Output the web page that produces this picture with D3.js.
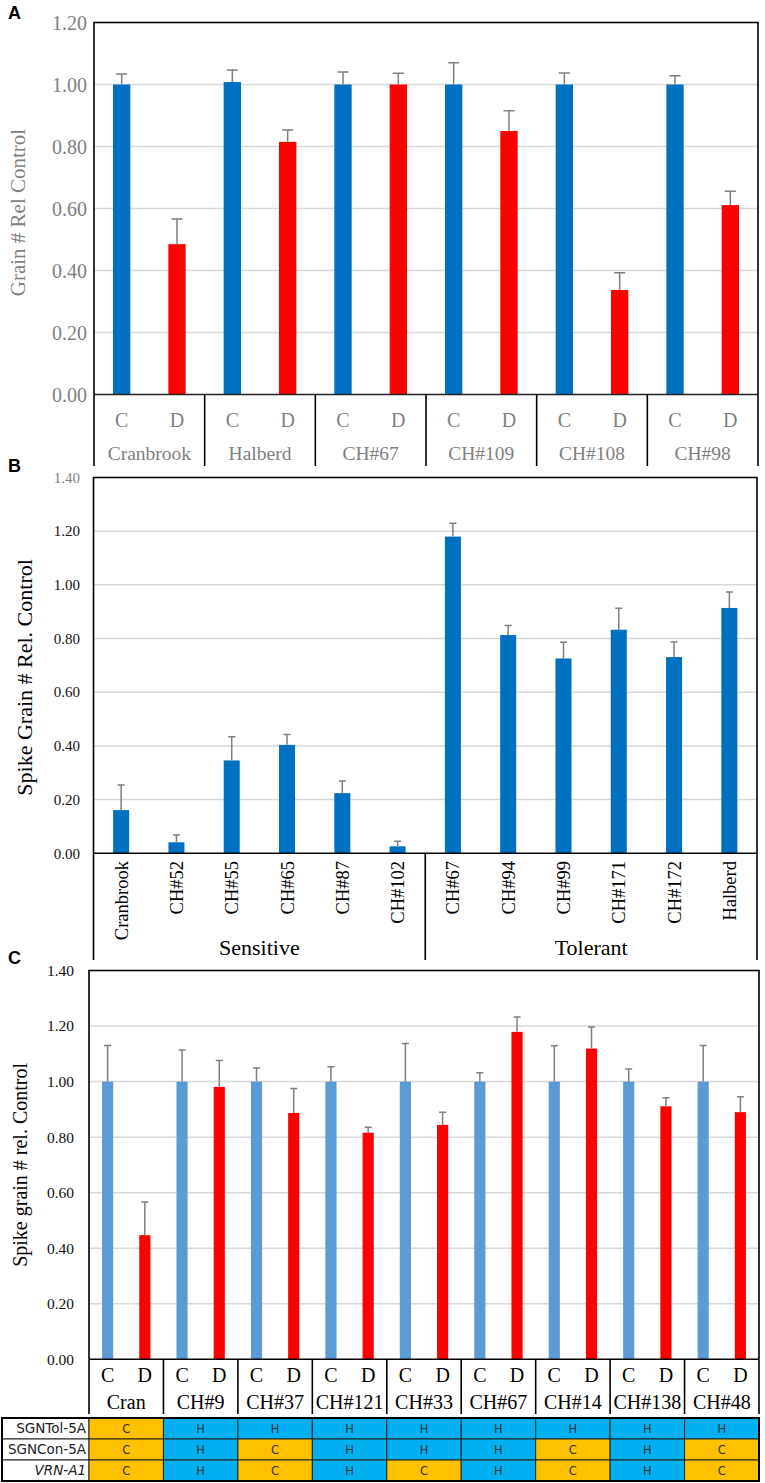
<!DOCTYPE html>
<html><head><meta charset="utf-8">
<script src="https://cdn.jsdelivr.net/npm/d3@7"></script>
<style>
html,body{margin:0;padding:0;background:#fff;}
svg{display:block;}
</style></head>
<body>
<script>
// ---------- DATA ----------
const groupsA = ["Cranbrook","Halberd","CH#67","CH#109","CH#108","CH#98"];
const treatments = ["C","D"];
const ctrlA = [1.00,1.008,1.00,1.00,1.00,1.00];
const ctrlErrA = [0.034,0.039,0.040,0.070,0.037,0.028];
const droughtA = [0.485,0.815,1.00,0.85,0.337,0.611];
const droughtErrA = [0.081,0.038,0.036,0.065,0.056,0.045];
const ticksA = [0,0.2,0.4,0.6,0.8,1.0,1.2];

const groupsB = ["Cranbrook","CH#52","CH#55","CH#65","CH#87","CH#102","CH#67","CH#94","CH#99","CH#171","CH#172","Halberd"];
const valB = [0.161,0.041,0.346,0.404,0.224,0.026,1.18,0.813,0.726,0.833,0.731,0.914];
const errB = [0.093,0.027,0.088,0.039,0.045,0.019,0.05,0.036,0.06,0.08,0.056,0.059];
const classesB = ["Sensitive","Tolerant"];
const classSizeB = [6,6];
const ticksBC = [0,0.2,0.4,0.6,0.8,1.0,1.2,1.4];

const groupsC = ["Cran","CH#9","CH#37","CH#121","CH#33","CH#67","CH#14","CH#138","CH#48"];
const ctrlC = [1,1,1,1,1,1,1,1,1];
const ctrlErrC = [0.13,0.114,0.049,0.053,0.137,0.032,0.129,0.045,0.13];
const droughtC = [0.447,0.981,0.887,0.816,0.844,1.179,1.119,0.911,0.89];
const droughtErrC = [0.119,0.095,0.088,0.02,0.046,0.054,0.078,0.031,0.055];

const tableRows = ["SGNTol-5A","SGNCon-5A","VRN-A1"];
const tableVals = [
  ["C","H","H","H","H","H","H","H","H"],
  ["C","H","C","H","H","H","C","H","C"],
  ["C","H","C","H","C","H","C","H","C"]
];

// ---------- STYLE ----------
const W = 765, H = 1483;
const serif = "'Liberation Serif','Times New Roman',serif";
const sans = "'Liberation Sans',Arial,sans-serif";
const gridCol = "#d9d9d9", errCol = "#7f7f7f";
const blueA = "#0070c0", red = "#ff0000", blueC = "#5b9bd5";
const orange = "#ffc000", cyan = "#00b0f0";

const svg = d3.select("body").append("svg").attr("width", W).attr("height", H)
  .style("font-family", serif);

function fmt(v){ return d3.format(".2f")(v); }

function panelLetter(t, x, y){
  svg.append("text").attr("x", x).attr("y", y).text(t)
    .attr("font-family", sans).attr("font-weight", "bold").attr("font-size", 18).attr("fill", "#000");
}

function frame(g, x0, x1, y0, y1){
  g.append("path").attr("d", `M${x0},${y1}V${y0}H${x1}V${y1}`)
    .attr("fill","none").attr("stroke","#000").attr("stroke-width",1.6);
}

function yAxis(g, y, x0, x1, ticks, col, fs, labelX, colFn){
  g.selectAll(".grid").data(ticks.filter(t=>t>0)).join("line")
    .attr("x1", x0).attr("x2", x1).attr("y1", d=>y(d)).attr("y2", d=>y(d))
    .attr("stroke", gridCol).attr("stroke-width", 1.5);
  g.selectAll(".tl").data(ticks).join("text")
    .attr("x", labelX).attr("y", d=>y(d)).attr("dy","0.35em")
    .attr("text-anchor","end").attr("font-size", fs)
    .attr("fill", (d,i)=> colFn ? colFn(d,i) : col).text(fmt);
}

function bars(g, data, x, y, bw, color, capW){
  g.selectAll(null).data(data).join("rect")
    .attr("x", d=>x(d.key)+x.bandwidth()/2-bw/2).attr("width", bw)
    .attr("y", d=>y(d.v)).attr("height", d=>y(0)-y(d.v)).attr("fill", d=>d.color||color);
  g.selectAll(null).data(data).join("path")
    .attr("d", d=>{ const cx = x(d.key)+x.bandwidth()/2; const yt = y(d.v+d.e), yb = y(d.v);
      return `M${cx},${yb}V${yt}M${cx-capW/2},${yt}H${cx+capW/2}`; })
    .attr("fill","none").attr("stroke", errCol).attr("stroke-width", 1.5);
}

// ---------- PANEL A ----------
(function(){
  const g = svg.append("g");
  const x0 = 94, x1 = 758, yTop = 22.5, yBot = 394.5;
  const y = d3.scaleLinear().domain([0,1.2]).range([yBot, yTop]);
  const keys = [];
  groupsA.forEach(gr => treatments.forEach(t => keys.push(gr+"|"+t)));
  const x = d3.scaleBand().domain(keys).range([x0,x1]).padding(0);
  const gx = d3.scaleBand().domain(groupsA).range([x0,x1]).padding(0);
  yAxis(g, y, x0, x1, ticksA, "#7f7f7f", 20, 87);
  const data = [];
  groupsA.forEach((gr,i)=>{
    data.push({key: gr+"|C", v: ctrlA[i], e: ctrlErrA[i], color: blueA});
    data.push({key: gr+"|D", v: droughtA[i], e: droughtErrA[i], color: red});
  });
  bars(g, data, x, y, x.bandwidth()*0.313, blueA, 11);
  frame(g, x0, x1, yTop, yBot);
  g.append("line").attr("x1",x0).attr("x2",x1).attr("y1",yBot).attr("y2",yBot)
    .attr("stroke","#222").attr("stroke-width",1.6);
  const seps = groupsA.map(gr=>gx(gr)).concat([x1]);
  g.selectAll(null).data(seps).join("line")
    .attr("x1",d=>d).attr("x2",d=>d).attr("y1",yBot).attr("y2",466)
    .attr("stroke","#000").attr("stroke-width",1.6);
  g.selectAll(null).data(keys).join("text")
    .attr("x", d=>x(d)+x.bandwidth()/2).attr("y", 420).attr("dy","0.35em")
    .attr("text-anchor","middle").attr("font-size",20).attr("fill","#7f7f7f")
    .text(d=>d.split("|")[1]);
  g.selectAll(null).data(groupsA).join("text")
    .attr("x", d=>gx(d)+gx.bandwidth()/2).attr("y", 453).attr("dy","0.35em")
    .attr("text-anchor","middle").attr("font-size",19.5).attr("fill","#7f7f7f").text(d=>d);
  g.append("text").attr("transform",`translate(18,${(yTop+yBot)/2+4}) rotate(-90)`)
    .attr("dy","0.35em").attr("text-anchor","middle").attr("font-size",21).attr("fill","#7f7f7f")
    .text("Grain # Rel Control");
  panelLetter("A", 8, 19);
})();

// ---------- PANEL B ----------
(function(){
  const g = svg.append("g");
  const x0 = 93.5, x1 = 757, yTop = 477.5, yBot = 853.3;
  const y = d3.scaleLinear().domain([0,1.4]).range([yBot, yTop]);
  const x = d3.scaleBand().domain(groupsB).range([x0,x1]).padding(0);
  yAxis(g, y, x0, x1, ticksBC, "#111", 15, 80, (d)=> d===1.4 ? "#808080" : "#111");
  const data = groupsB.map((gr,i)=>({key: gr, v: valB[i], e: errB[i]}));
  bars(g, data, x, y, x.bandwidth()*0.29, blueA, 7);
  frame(g, x0, x1, yTop, yBot);
  g.append("line").attr("x1",x0).attr("x2",x1).attr("y1",yBot).attr("y2",yBot)
    .attr("stroke","#000").attr("stroke-width",1.6);
  const sepX = [x0, x(groupsB[classSizeB[0]]), x1];
  g.selectAll(null).data(sepX).join("line")
    .attr("x1",d=>d).attr("x2",d=>d).attr("y1",yBot).attr("y2",960)
    .attr("stroke","#000").attr("stroke-width",1.6);
  g.selectAll(null).data(groupsB).join("text")
    .attr("transform", d=>`translate(${x(d)+x.bandwidth()/2},861) rotate(-90)`)
    .attr("dy","0.35em").attr("text-anchor","end").attr("font-size",18.5).attr("fill","#000").text(d=>d);
  const centers = [ (sepX[0]+sepX[1])/2, (sepX[1]+sepX[2])/2 ];
  g.selectAll(null).data(classesB).join("text")
    .attr("x",(d,i)=>centers[i]).attr("y",947).attr("dy","0.35em")
    .attr("text-anchor","middle").attr("font-size",22).attr("fill","#000").text(d=>d);
  g.append("text").attr("transform",`translate(24,${(yTop+yBot)/2+12}) rotate(-90)`)
    .attr("dy","0.35em").attr("text-anchor","middle").attr("font-size",22).attr("fill","#000")
    .text("Spike Grain # Rel. Control");
  panelLetter("B", 8, 472);
})();

// ---------- PANEL C ----------
(function(){
  const g = svg.append("g");
  const x0 = 89, x1 = 759, yTop = 970.5, yBot = 1359.3;
  const y = d3.scaleLinear().domain([0,1.4]).range([yBot, yTop]);
  const keys = [];
  groupsC.forEach(gr => treatments.forEach(t => keys.push(gr+"|"+t)));
  const x = d3.scaleBand().domain(keys).range([x0,x1]).padding(0);
  const gx = d3.scaleBand().domain(groupsC).range([x0,x1]).padding(0);
  yAxis(g, y, x0, x1, ticksBC, "#111", 15.5, 74);
  const data = [];
  groupsC.forEach((gr,i)=>{
    data.push({key: gr+"|C", v: ctrlC[i], e: ctrlErrC[i], color: blueC});
    data.push({key: gr+"|D", v: droughtC[i], e: droughtErrC[i], color: red});
  });
  bars(g, data, x, y, x.bandwidth()*0.3, blueC, 7);
  frame(g, x0, x1, yTop, yBot);
  g.append("line").attr("x1",x0).attr("x2",x1).attr("y1",yBot).attr("y2",yBot)
    .attr("stroke","#000").attr("stroke-width",1.6);
  const seps = groupsC.map(gr=>gx(gr)).concat([x1]);
  g.selectAll(null).data(seps).join("line")
    .attr("x1",d=>d).attr("x2",d=>d).attr("y1",yBot).attr("y2",1414)
    .attr("stroke","#000").attr("stroke-width",1.6);
  g.selectAll(null).data(keys).join("text")
    .attr("x", d=>x(d)+x.bandwidth()/2).attr("y", 1375).attr("dy","0.35em")
    .attr("text-anchor","middle").attr("font-size",20).attr("fill","#000")
    .text(d=>d.split("|")[1]);
  g.selectAll(null).data(groupsC).join("text")
    .attr("x", d=>gx(d)+gx.bandwidth()/2).attr("y", 1401.5).attr("dy","0.35em")
    .attr("text-anchor","middle").attr("font-size",20).attr("fill","#000").text(d=>d);
  g.append("text").attr("transform",`translate(20,${(yTop+yBot)/2}) rotate(-90)`)
    .attr("dy","0.35em").attr("text-anchor","middle").attr("font-size",20).attr("fill","#000")
    .text("Spike grain # rel. Control");
  panelLetter("C", 8, 964);

  // ---------- TABLE ----------
  const t = svg.append("g");
  const tx0 = 2, ty0 = 1418, rowH = 21;
  const ry = d3.scaleBand().domain(tableRows).range([ty0, ty0+rowH*tableRows.length]).padding(0);
  t.selectAll(null).data(tableRows).join("rect")
    .attr("x", tx0).attr("y", d=>ry(d)).attr("width", x0-tx0).attr("height", ry.bandwidth())
    .attr("fill","#fff").attr("stroke","#222").attr("stroke-width",1);
  tableRows.forEach((r,ri)=>{
    t.selectAll(null).data(tableVals[ri]).join("rect")
      .attr("x",(d,i)=>gx(groupsC[i])).attr("y", ry(r)).attr("width", gx.bandwidth()).attr("height", ry.bandwidth())
      .attr("fill", d=> d==="C" ? orange : cyan).attr("stroke","#222").attr("stroke-width",1);
    t.selectAll(null).data(tableVals[ri]).join("text")
      .attr("x",(d,i)=>gx(groupsC[i])+gx.bandwidth()/2).attr("y", ry(r)+ry.bandwidth()/2).attr("dy","0.35em")
      .attr("text-anchor","middle").attr("font-family","'DejaVu Sans',sans-serif").attr("font-size",11.5).attr("fill","#333").text(d=>d);
  });
  t.selectAll(null).data(tableRows).join("text")
    .attr("x", 86).attr("y", d=>ry(d)+ry.bandwidth()/2).attr("dy","0.35em")
    .attr("text-anchor","end").attr("font-family","'DejaVu Sans',sans-serif").attr("font-size",13.5)
    .attr("font-style", d=> d==="VRN-A1" ? "italic" : "normal").attr("fill","#222").text(d=>d);
  t.append("rect").attr("x",tx0).attr("y",ty0).attr("width",x1-tx0).attr("height",rowH*tableRows.length)
    .attr("fill","none").attr("stroke","#000").attr("stroke-width",2);
})();
</script>
</body></html>
